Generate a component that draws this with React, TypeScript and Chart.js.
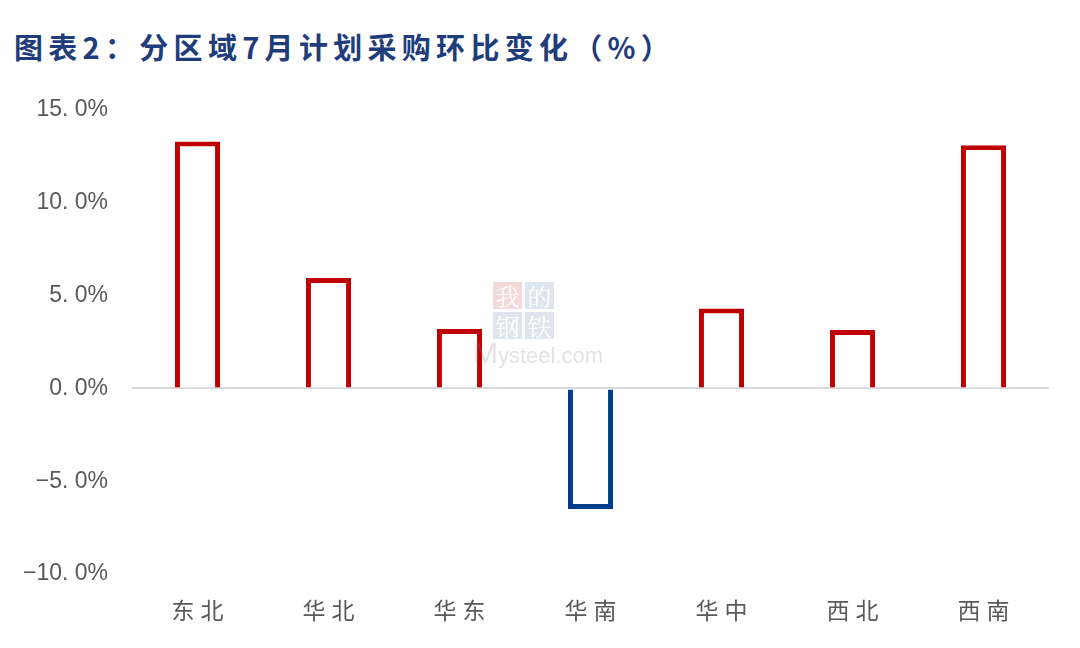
import React, { useEffect, useRef } from "react";
import { Chart, registerables } from "chart.js";

Chart.register(...registerables);

const titleText = "图表2：分区域7月计划采购环比变化（%）";
const categories = ["东北", "华北", "华东", "华南", "华中", "西北", "西南"];
const changeValues = [13.3, 5.95, 3.2, -6.5, 4.3, 3.15, 13.1];
const yTickValues = [15, 10, 5, 0, -5, -10];
const yTickLabels = ["15. 0%", "10. 0%", "5. 0%", "0. 0%", "−5. 0%", "−10. 0%"];

const RED = "#C00000";
const BLUE = "#003C8C";

export default function App() {
  const ref = useRef<HTMLCanvasElement | null>(null);

  useEffect(() => {
    if (!ref.current) return;
    const chart = new Chart(ref.current, {
      type: "bar",
      data: {
        labels: categories,
        datasets: [
          {
            data: changeValues,
            backgroundColor: "#FFFFFF",
            borderColor: changeValues.map((v) => (v >= 0 ? RED : BLUE)),
            borderWidth: 5,
            categoryPercentage: 1,
            barPercentage: 0.344,
          },
        ],
      },
      options: {
        animation: false,
        responsive: false,
        maintainAspectRatio: false,
        layout: { padding: { top: 110, right: 31, bottom: 0, left: 0 } },
        plugins: {
          legend: { display: false },
          tooltip: { enabled: false },
          title: { display: false },
        },
        scales: {
          x: {
            grid: { display: false, drawTicks: false },
            border: { display: false },
            ticks: {
              color: "#595959",
              padding: 22,
              font: { family: "'Noto Sans CJK SC'", size: 23 },
            },
            afterFit: (s: any) => {
              s.height = 74;
              if (!s._lsPatched) {
                s._lsPatched = true;
                const orig = s.drawLabels;
                s.drawLabels = function (area: any) {
                  const c = this.ctx;
                  c.save();
                  c.letterSpacing = "6px";
                  c.translate(3, 0);
                  orig.call(this, area);
                  c.restore();
                };
              }
            },
          },
          y: {
            min: -10,
            max: 15,
            afterBuildTicks: (s: any) => {
              s.ticks = yTickValues.map((v) => ({ value: v }));
            },
            grid: {
              drawTicks: false,
              color: (ctx: any) => (ctx.tick && ctx.tick.value === 0 ? "#D9D9D9" : "rgba(0,0,0,0)"),
              lineWidth: 2,
            },
            border: { display: false },
            ticks: {
              color: "#595959",
              padding: 24,
              font: { family: "'Liberation Sans', Arial", size: 23 },
              callback: (value: any) => {
                const i = yTickValues.indexOf(Number(value));
                return i >= 0 ? yTickLabels[i] : "";
              },
            },
            afterFit: (s: any) => {
              s.width = 132;
            },
          },
        },
      },
    });
    return () => chart.destroy();
  }, []);

  return (
    <div style={{ position: "absolute", left: 0, top: 0, width: 1080, height: 648, background: "#fff", overflow: "hidden" }}>
      <div
        style={{
          position: "absolute",
          left: 14,
          top: 26,
          fontFamily: "'Noto Sans CJK SC'",
          fontWeight: 700,
          fontSize: 29,
          lineHeight: "40px",
          color: "#1F3D7A",
          letterSpacing: 5.3,
          whiteSpace: "nowrap",
        }}
      >
        {titleText}
      </div>
      <canvas ref={ref} width={1080} height={648} style={{ position: "absolute", left: 0, top: 0 }} />
      <div style={{ position: "absolute", left: 493, top: 282, width: 62, height: 58, opacity: 0.18, pointerEvents: "none" }}>
        <div style={{ display: "grid", gridTemplateColumns: "29px 29px", gap: 3, fontFamily: "'Noto Serif CJK SC', 'Noto Sans CJK SC'", fontSize: 24, lineHeight: "27px", textAlign: "center", color: "#fff" }}>
          <span style={{ background: "#C03030" }}>我</span>
          <span style={{ background: "#5070A0" }}>的</span>
          <span style={{ background: "#5070A0" }}>钢</span>
          <span style={{ background: "#5070A0" }}>铁</span>
        </div>
      </div>
      <div style={{ position: "absolute", left: 473, top: 336, fontFamily: "'Liberation Sans', Arial", fontSize: 22, color: "#808080", opacity: 0.22, pointerEvents: "none", whiteSpace: "nowrap" }}>
        <span style={{ fontSize: 30 }}>M</span>ysteel.com
      </div>
    </div>
  );
}
